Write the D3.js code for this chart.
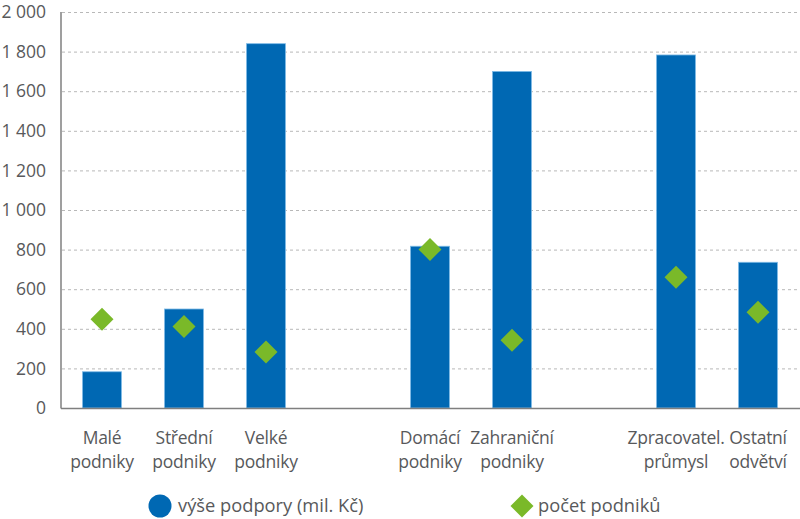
<!DOCTYPE html>
<html><head><meta charset="utf-8">
<script src="https://cdn.jsdelivr.net/npm/d3@7"></script>
<style>
body{margin:0;background:#fff;}
svg{display:block;font-family:"Open Sans",sans-serif;}
</style></head>
<body><svg id="c" width="800" height="519"></svg>
<script>
const categories = ["Malé|podniky","Střední|podniky","Velké|podniky","","Domácí|podniky","Zahraniční|podniky"," ","Zpracovatel.|průmysl","Ostatní|odvětví"];
const support = [183, 500, 1840, null, 817, 1700, null, 1783, 736];
const firms = [448, 412, 283, null, 801, 342, null, 660, 483];
const yTicks = [0,200,400,600,800,1000,1200,1400,1600,1800,2000];
const yTickLabels = ["0","200","400","600","800","1 000","1 200","1 400","1 600","1 800","2 000"];
const legendLabels = ["výše podpory (mil. Kč)","počet podniků"];

(function(){
const svg = d3.select("#c");
const pLeft = 61, pRight = 799, pTop = 12, pBottom = 408;
const textColor = "#58595b";
const blue = "#0068b3", green = "#7ab929";

const x = d3.scaleBand().domain(categories).range([pLeft, pRight]).paddingInner(0.525).paddingOuter(0.2625);
const y = d3.scaleLinear().domain([0,2000]).range([pBottom, pTop]);

svg.append("g").selectAll("line").data(yTicks.filter(d=>d>0)).join("line")
  .attr("x1", pLeft+1).attr("x2", 800).attr("y1", d=>y(d)+0.5).attr("y2", d=>y(d)+0.5)
  .attr("stroke","#b8b8b8").attr("stroke-width",1).attr("stroke-dasharray","3,3");

svg.append("g").selectAll("text").data(yTicks).join("text")
  .attr("x", 46).attr("y", d=>y(d)).attr("dy","0.35em").attr("text-anchor","end")
  .attr("font-size",17.5).attr("fill",textColor).text((d,i)=>yTickLabels[i]);

const idx = d3.range(categories.length).filter(i=>support[i]!=null);
svg.append("g").selectAll("rect").data(idx).join("rect")
  .attr("x", i=>x(categories[i])).attr("width", x.bandwidth())
  .attr("y", i=>y(support[i])).attr("height", i=>pBottom - y(support[i]))
  .attr("fill", blue).attr("stroke","#7fbbe6").attr("stroke-width",0.8);

const ds = 11.5;
svg.append("g").selectAll("path").data(idx).join("path")
  .attr("transform", i=>`translate(${x(categories[i])+x.bandwidth()/2},${y(firms[i])})`)
  .attr("d", `M0,${-ds}L${ds},0L0,${ds}L${-ds},0Z`).attr("fill", green);

svg.append("line").attr("x1",pLeft).attr("x2",pLeft).attr("y1",pTop).attr("y2",pBottom+0.5)
  .attr("stroke","#7f7f7f").attr("stroke-width",1.5);
svg.append("line").attr("x1",pLeft).attr("x2",800).attr("y1",pBottom+0.5).attr("y2",pBottom+0.5)
  .attr("stroke","#7f7f7f").attr("stroke-width",1.5);

const lab = svg.append("g").selectAll("text").data(idx).join("text")
  .attr("text-anchor","middle").attr("font-size",17.5).attr("letter-spacing",-0.25).attr("fill",textColor);
lab.each(function(i){
  const parts = categories[i].split("|");
  const cx = x(categories[i]) + x.bandwidth()/2;
  d3.select(this).selectAll("tspan").data(parts).join("tspan")
    .attr("x", cx).attr("y", (d,k)=>444 + k*24).text(d=>d);
});

const lg = svg.append("g");
lg.append("circle").attr("cx",160).attr("cy",506).attr("r",11.5).attr("fill",blue);
lg.append("text").attr("x",178).attr("y",506).attr("dy","0.35em").attr("font-size",18.3).attr("fill",textColor).text(legendLabels[0]);
lg.append("path").attr("transform","translate(522,506)").attr("d",`M0,-11.5L11.5,0L0,11.5L-11.5,0Z`).attr("fill",green);
lg.append("text").attr("x",538).attr("y",506).attr("dy","0.35em").attr("font-size",18.3).attr("fill",textColor).text(legendLabels[1]);
})();
</script></body></html>
